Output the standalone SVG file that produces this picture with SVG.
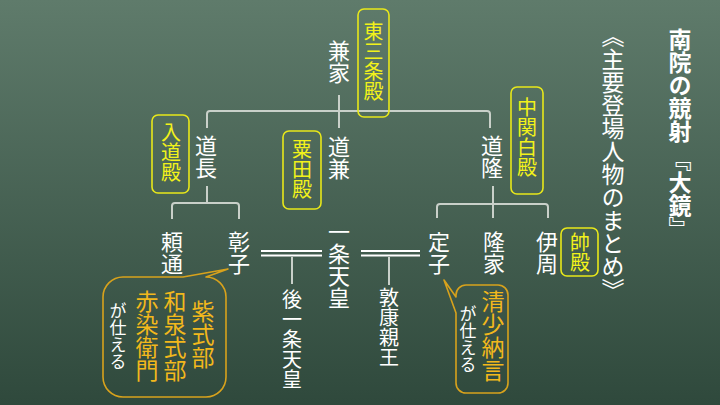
<svg xmlns="http://www.w3.org/2000/svg" width="720" height="405" viewBox="0 0 720 405">
<defs>
<linearGradient id="bg" x1="0" y1="0" x2="0" y2="1">
<stop offset="0" stop-color="#5f7b6b"/>
<stop offset="1" stop-color="#2f493c"/>
</linearGradient>
<style>
text{font-family:"Noto Sans CJK JP","Noto Sans CJK SC",sans-serif;writing-mode:vertical-rl;}
.n{fill:#ffffff;font-size:22px;}
.s{fill:#ffffff;font-size:20px;}
.lab{fill:#f2f21a;font-size:20px;}
.box{fill:none;stroke:#e8e81a;stroke-width:1.6;}
.gold{fill:#f2b81c;font-size:23px;}
.w{fill:#ffffff;font-size:17px;}
.bub{fill:none;stroke:#d8a21c;stroke-width:1.6;stroke-linejoin:round;}
.ln{fill:none;stroke:#c9d0c9;stroke-width:2;}
.dbl{stroke:#ffffff;stroke-width:2.2;}
</style>
</defs>
<rect width="720" height="405" fill="url(#bg)"/>

<g id="title"><text x="680" y="28" style="font-size:23px;font-weight:bold;fill:#fff">南院の競射 『大鏡』</text></g>
<g id="subtitle"><text x="613" y="25" style="font-size:23px;fill:#fff">《主要登場人物のまとめ》</text></g>

<g id="connectors">
<path class="ln" d="M339,95 V128"/>
<path class="ln" d="M207,128 V114 Q207,111 210,111 H487 Q490,111 490,114 V128"/>
<path class="ln" d="M207,186 V203"/>
<path class="ln" d="M172,219 V206 Q172,203 175,203 H236 Q239,203 239,206 V219"/>
<path class="ln" d="M493,186 V218"/>
<path class="ln" d="M437,218 V207 Q437,204 440,204 H545 Q548,204 548,207 V218"/>
<line class="dbl" x1="261" y1="251" x2="322" y2="251"/>
<line class="dbl" x1="261" y1="255.5" x2="322" y2="255.5"/>
<path class="ln" d="M292,257 V284"/>
<line class="dbl" x1="361" y1="251" x2="420" y2="251"/>
<line class="dbl" x1="361" y1="255.5" x2="420" y2="255.5"/>
<path class="ln" d="M389,257 V285"/>
</g>

<g id="kaneie"><text class="n" x="339" y="40">兼家</text></g>
<g id="higashisanjo"><rect class="box" x="358" y="9" width="31" height="108" rx="6"/><text class="lab" x="373.5" y="21">東三条殿</text></g>

<g id="michinaga"><text class="n" x="206" y="135">道長</text></g>
<g id="nyudo"><rect class="box" x="152" y="115" width="37" height="78" rx="6"/><text class="lab" x="171" y="122">入道殿</text></g>

<g id="michikane"><text class="n" x="339" y="136">道兼</text></g>
<g id="awata"><rect class="box" x="283" y="131" width="38" height="78" rx="6"/><text class="lab" x="302" y="139">粟田殿</text></g>

<g id="michitaka"><text class="n" x="492" y="135">道隆</text></g>
<g id="nakanokanpaku"><rect class="box" x="511" y="87" width="32" height="107" rx="6"/><text class="lab" x="527" y="97">中関白殿</text></g>

<g id="yorimichi"><text class="n" x="172" y="231">頼通</text></g>
<g id="shoshi"><text class="n" x="239" y="231">彰子</text></g>
<g id="ichijo"><text class="n" x="339" y="221">一条天皇</text></g>
<g id="teishi"><text class="n" x="439" y="231">定子</text></g>
<g id="takaie"><text class="n" x="494" y="231">隆家</text></g>
<g id="korechika"><text class="n" x="547" y="231">伊周</text></g>
<g id="sochi"><rect class="box" x="561" y="228" width="37" height="48" rx="6"/><text class="lab" x="580" y="232">帥殿</text></g>

<g id="goichijo"><text class="s" x="292" y="289">後一条天皇</text></g>
<g id="atsuyasu"><text class="s" x="389" y="287">敦康親王</text></g>

<g id="bubble-shoshi">
<path class="bub" d="M183,277 L228,269 L206,277 A20,20 0 0 1 226,297 V377 A20,20 0 0 1 206,397 H123 A20,20 0 0 1 103,377 V297 A20,20 0 0 1 123,277 Z"/>
<text class="gold" x="203" y="300">紫式部</text>
<text class="gold" x="175" y="290">和泉式部</text>
<text class="gold" x="147" y="290">赤染衛門</text>
<text class="w" x="118" y="302">が仕える</text>
</g>

<g id="bubble-teishi">
<path class="bub" d="M456,297 L444,280 L456,313 V383 A10,10 0 0 0 466,393 H498 A10,10 0 0 0 508,383 V295 A10,10 0 0 0 498,285 H466 A10,10 0 0 0 456,295 Z"/>
<text class="gold" x="493" y="290">清少納言</text>
<text class="w" x="468" y="305">が仕える</text>
</g>
</svg>
